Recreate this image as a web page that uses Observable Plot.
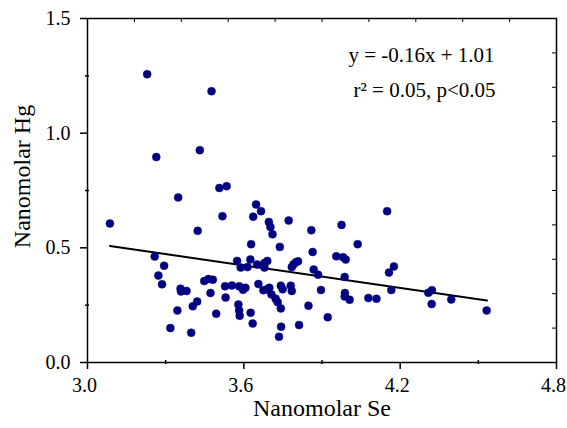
<!DOCTYPE html>
<html><head><meta charset="utf-8">
<script src="https://cdn.jsdelivr.net/npm/d3@7"></script>
<script src="https://cdn.jsdelivr.net/npm/@observablehq/plot@0.6"></script>
<style>html,body{margin:0;padding:0;background:#fff;}</style>
</head><body><div id="chart"></div>
<script>
// Nanomolar Se (x) and Nanomolar Hg (y)
const seX = [
  3.229, 3.476, 3.431, 3.264, 3.506, 3.534, 3.086, 3.348, 3.518, 3.423,
  3.647, 3.666, 3.636, 3.696, 3.702, 3.710, 3.772, 3.859, 3.628, 3.738,
  3.864, 3.258, 3.294, 3.272, 3.286, 3.574, 3.588, 3.614, 3.625, 3.651,
  3.679, 3.679, 3.690, 3.784, 3.791, 3.800, 3.808, 3.868, 3.885, 3.357,
  3.359, 3.380, 3.448, 3.464, 3.481, 3.472, 3.528, 3.554, 3.582, 3.597,
  3.606, 3.530, 3.656, 3.675, 3.689, 3.698, 3.706, 3.722, 3.730, 3.742,
  3.742, 3.749, 3.780, 3.784, 3.896, 3.421, 3.404, 3.345, 3.494, 3.579,
  3.582, 3.584, 3.626, 3.634, 3.318, 3.398, 3.743, 3.735, 3.812, 3.848,
  3.922, 4.150, 3.975, 4.037, 3.955, 3.981, 3.991, 4.176, 4.157, 3.987,
  3.988, 3.987, 4.006, 4.078, 4.109, 4.166, 4.308, 4.322, 4.321, 4.396,
  4.532
];
const hgY = [
  1.257, 1.183, 0.926, 0.896, 0.761, 0.769, 0.606, 0.720, 0.638, 0.574,
  0.689, 0.660, 0.636, 0.613, 0.591, 0.559, 0.619, 0.577, 0.516, 0.504,
  0.482, 0.462, 0.422, 0.379, 0.341, 0.443, 0.414, 0.416, 0.449, 0.427,
  0.414, 0.434, 0.443, 0.416, 0.428, 0.437, 0.441, 0.405, 0.383, 0.322,
  0.310, 0.312, 0.355, 0.364, 0.361, 0.303, 0.332, 0.336, 0.332, 0.317,
  0.326, 0.283, 0.342, 0.315, 0.319, 0.326, 0.297, 0.278, 0.263, 0.236,
  0.335, 0.319, 0.335, 0.312, 0.316, 0.266, 0.245, 0.227, 0.213, 0.253,
  0.227, 0.204, 0.217, 0.170, 0.150, 0.130, 0.156, 0.112, 0.163, 0.248,
  0.197, 0.660, 0.600, 0.516, 0.463, 0.459, 0.449, 0.419, 0.392, 0.373,
  0.303, 0.288, 0.274, 0.281, 0.278, 0.316, 0.304, 0.315, 0.255, 0.275,
  0.227
];
// regression line end points
const fitX = [3.086, 4.533];
const fitY = [0.508, 0.270];

const xTicks = [3.0, 3.6, 4.2, 4.8];
const xMinorTicks = [3.3, 3.9, 4.5];
const yTicks = [0.0, 0.5, 1.0, 1.5];
const yMinorTicks = [0.25, 0.75, 1.25];
const topTicks = [3.18, 3.36, 3.54, 3.72, 3.90, 4.08, 4.26, 4.44, 4.62];
const rightTicks = [0.15, 0.30, 0.45, 0.60, 0.75, 0.90, 1.05, 1.20, 1.35];

const equationLines = ["y = -0.16x + 1.01", "r\u00B2 = 0.05, p<0.05"];
const xLabel = "Nanomolar Se";
const yLabel = "Nanomolar Hg";

const W = 567, H = 428, mL = 87, mR = 11, mT = 18, mB = 66;
const fw = W - mL - mR, fh = H - mT - mB;
const pts = seX.map((x, i) => ({x, y: hgY[i]}));
const fit = fitX.map((x, i) => ({x, y: fitY[i]}));
const fmt = d => d.toFixed(1);

const chart = Plot.plot({
  width: W, height: H,
  marginLeft: mL, marginRight: mR, marginTop: mT, marginBottom: mB,
  style: {fontFamily: "'Liberation Serif', 'Times New Roman', serif", fontSize: "20px", color: "black", background: "white", overflow: "visible"},
  x: {domain: [3.0, 4.8]},
  y: {domain: [0, 1.5]},
  marks: [
    Plot.frame({stroke: "black", strokeWidth: 1.5}),
    Plot.axisX({ticks: xTicks, tickSize: 7, tickPadding: 8, tickFormat: fmt, fontSize: 20, label: null, strokeWidth: 1.5, textStroke: "none"}),
    Plot.axisX({ticks: xMinorTicks, tickSize: 4, dy: -2, text: null, label: null, strokeWidth: 1.5}),
    Plot.axisY({ticks: yTicks, tickSize: 7, tickPadding: 10, tickFormat: fmt, fontSize: 20, label: null, strokeWidth: 1.5}),
    Plot.axisY({ticks: yMinorTicks, tickSize: 4, dx: 2, text: null, label: null, strokeWidth: 1.5}),
    Plot.tickX(topTicks, {x: d => d, insetBottom: fh - 4, stroke: "black"}),
    Plot.tickY(rightTicks, {y: d => d, insetLeft: fw - 4, stroke: "black"}),
    Plot.line(fit, {x: "x", y: "y", stroke: "black", strokeWidth: 2}),
    Plot.dot(pts, {x: "x", y: "y", r: 4, fill: "#000080", stroke: "#10108a", strokeWidth: 0.5}),
    Plot.text([equationLines[0]], {frameAnchor: "top-left", text: d => d, dx: 421 - mL, dy: 55 - mT, fontSize: 21, textAnchor: "middle", lineAnchor: "middle", fill: "black"}),
    Plot.text([equationLines[1]], {frameAnchor: "top-left", text: d => d, dx: 424 - mL, dy: 90 - mT, fontSize: 21, textAnchor: "middle", lineAnchor: "middle", fill: "black"}),
    Plot.text([xLabel], {frameAnchor: "bottom", text: d => d, dy: 53, fontSize: 24, fill: "black"}),
    Plot.text([yLabel], {frameAnchor: "left", text: d => d, rotate: -90, textAnchor: "middle", lineAnchor: "middle", dx: 22 - mL, dy: -14, fontSize: 24, fill: "black"})
  ]
});
// nudge x tick labels slightly left, as in the reference
chart.querySelectorAll("[aria-label='x-axis tick label'] text").forEach(t => t.setAttribute("dx", "-3"));
document.getElementById("chart").appendChild(chart);
</script>
</body></html>
